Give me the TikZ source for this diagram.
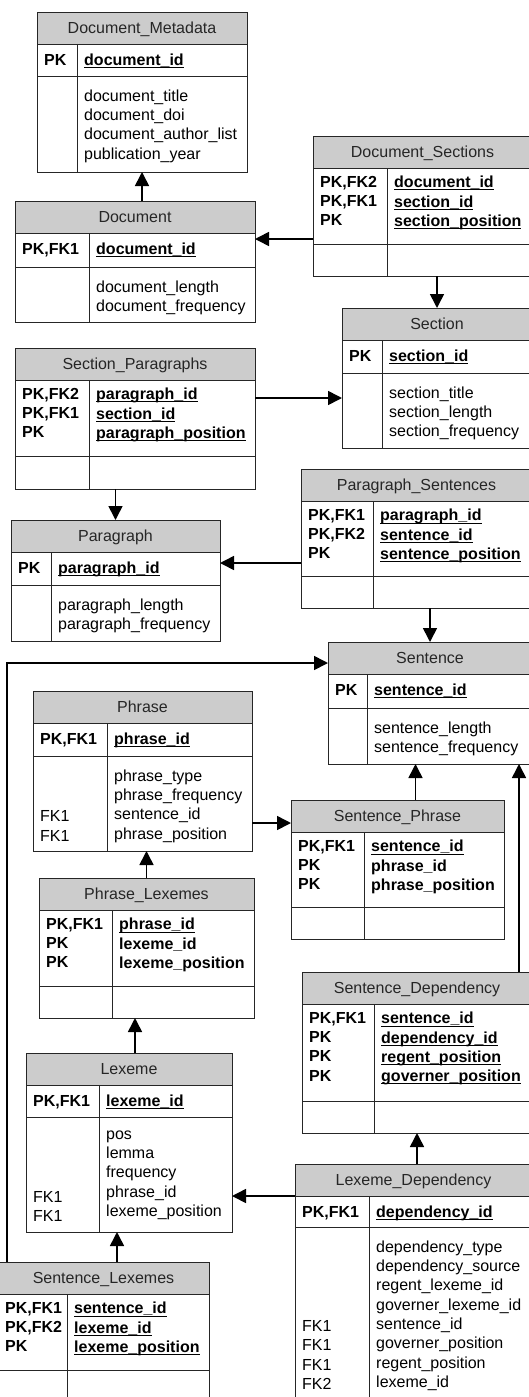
\documentclass[tikz,border=0pt]{standalone}
\usepackage{fontspec}
\setmainfont{Liberation Sans}
\usetikzlibrary{arrows.meta}

\newcommand{\entfont}{\fontsize{16}{19.3}\selectfont}
\newcommand{\pkul}[1]{\setbox0=\hbox{#1}\rlap{\rule[-2.6pt]{\wd0}{0.9pt}}\box0}

% table frame: id, left, top, right, divider, title, key height, body height
\newcommand{\enttable}[8]{%
  \node[enthead, minimum width={(#4-(#2))*1pt}, anchor=north west] (#1-h) at (#2,#3) {};
  \node[entrow, minimum width={(#4-(#2))*1pt}, minimum height=#7pt, anchor=north west] (#1-k) at (#1-h.south west) {};
  \node[entrow, minimum width={(#4-(#2))*1pt}, minimum height=#8pt, anchor=north west] (#1-b) at (#1-k.south west) {};
  \coordinate (#1-d) at (#5,{#3+32});
  \coordinate (#1-bd) at (#1-b.north -| #1-d);
  \draw[entline] (#1-d) -- (#1-d |- #1-b.south);
  \node[enttitle] at ([yshift=-21.5pt]#1-h.north) {#6};
}
\newcommand{\entkeys}[3]{%
  \node[keycol] at ([xshift=7pt,yshift=-8pt]#1-k.north west) {#2};
  \node[keycol] at ([xshift=7pt,yshift=-8pt]#1-d) {#3};
}
\newcommand{\entattrs}[3]{%
  \node[attrcol] at ([xshift=7pt,yshift=-13.5pt]#1-b.north west) {#2};
  \node[attrcol] at ([xshift=7pt,yshift=-13.5pt]#1-bd) {#3};
}

\begin{document}
\begin{tikzpicture}[x=1pt,y=-1pt,
    font=\entfont,
    entline/.style={draw=black!85,line width=0.9pt},
    enthead/.style={entline,fill=gray!40,minimum height=32pt,inner sep=0,outer sep=0},
    entrow/.style={entline,inner sep=0,outer sep=0},
    enttitle/.style={anchor=base,inner sep=0,text=black!85},
    keycol/.style={anchor=north west,inner sep=0,align=left,font=\entfont\bfseries,execute at begin node=\strut},
    attrcol/.style={anchor=north west,inner sep=0,align=left,execute at begin node=\strut},
    fk/.style={-{Triangle[length=14pt,width=14pt]},line width=1.6pt}
]
\useasboundingbox (0,0) rectangle (529,1397);

% document level
\enttable{meta}{37}{12}{247}{77}{Document\_Metadata}{32}{96}
\entkeys{meta}{PK}{\pkul{document\_id}}
\entattrs{meta}{}{document\_title\\document\_doi\\document\_author\_list\\publication\_year}

\enttable{doc}{15}{201}{255}{89}{Document}{34}{55}
\entkeys{doc}{PK,FK1}{\pkul{document\_id}}
\entattrs{doc}{}{document\_length\\document\_frequency}

\enttable{docsec}{313}{136}{532}{387}{Document\_Sections}{76}{32}
\entkeys{docsec}{PK,FK2\\PK,FK1\\PK}{\pkul{document\_id}\\\pkul{section\_id}\\\pkul{section\_position}}

\enttable{sec}{342}{308}{532}{382}{Section}{33}{75}
\entkeys{sec}{PK}{\pkul{section\_id}}
\entattrs{sec}{}{section\_title\\section\_length\\section\_frequency}

% paragraph level
\enttable{secpar}{15}{348}{255}{89}{Section\_Paragraphs}{76}{33}
\entkeys{secpar}{PK,FK2\\PK,FK1\\PK}{\pkul{paragraph\_id}\\\pkul{section\_id}\\\pkul{paragraph\_position}}

\enttable{par}{11}{520}{220}{51}{Paragraph}{33}{56}
\entkeys{par}{PK}{\pkul{paragraph\_id}}
\entattrs{par}{}{paragraph\_length\\paragraph\_frequency}

\enttable{parsen}{301}{469}{532}{373}{Paragraph\_Sentences}{75}{32}
\entkeys{parsen}{PK,FK1\\PK,FK2\\PK}{\pkul{paragraph\_id}\\\pkul{sentence\_id}\\\pkul{sentence\_position}}

\enttable{sen}{328}{642}{532}{367}{Sentence}{34}{56}
\entkeys{sen}{PK}{\pkul{sentence\_id}}
\entattrs{sen}{}{sentence\_length\\sentence\_frequency}

% phrase and lexeme level
\enttable{phr}{33}{691}{252}{107}{Phrase}{33}{95}
\entkeys{phr}{PK,FK1}{\pkul{phrase\_id}}
\entattrs{phr}{\strut\\\strut\\FK1\\FK1}{phrase\_type\\phrase\_frequency\\sentence\_id\\phrase\_position}

\enttable{senphr}{291}{800}{504}{364}{Sentence\_Phrase}{75}{32}
\entkeys{senphr}{PK,FK1\\PK\\PK}{\pkul{sentence\_id}\\phrase\_id\\phrase\_position}

\enttable{sendep}{302}{972}{532}{374}{Sentence\_Dependency}{97}{32}
\entkeys{sendep}{PK,FK1\\PK\\PK\\PK}{\pkul{sentence\_id}\\\pkul{dependency\_id}\\\pkul{regent\_position}\\\pkul{governer\_position}}

\enttable{phrlex}{39}{878}{254}{112}{Phrase\_Lexemes}{76}{32}
\entkeys{phrlex}{PK,FK1\\PK\\PK}{\pkul{phrase\_id}\\lexeme\_id\\lexeme\_position}

\enttable{lex}{26}{1053}{232}{99}{Lexeme}{32}{115}
\entkeys{lex}{PK,FK1}{\pkul{lexeme\_id}}
\entattrs{lex}{\strut\\\strut\\\strut\\FK1\\FK1}{pos\\lemma\\frequency\\phrase\_id\\lexeme\_position}

\enttable{senlex}{-2}{1262}{209}{67}{Sentence\_Lexemes}{76}{40}
\entkeys{senlex}{PK,FK1\\PK,FK2\\PK}{\pkul{sentence\_id}\\\pkul{lexeme\_id}\\\pkul{lexeme\_position}}

\enttable{lexdep}{295}{1164}{532}{369}{Lexeme\_Dependency}{31}{180}
\entkeys{lexdep}{PK,FK1}{\pkul{dependency\_id}}
\entattrs{lexdep}{\strut\\\strut\\\strut\\\strut\\FK1\\FK1\\FK1\\FK2}{dependency\_type\\dependency\_source\\regent\_lexeme\_id\\governer\_lexeme\_id\\sentence\_id\\governer\_position\\regent\_position\\lexeme\_id}

% references
\draw[fk] (doc-h.north -| meta-b.south) -- (meta-b.south);
\coordinate (p2) at ([yshift=5pt]docsec-k.south west);
\draw[fk] (p2) -- (p2 -| doc-k.east);
\draw[fk] (docsec-b.south -| sec-h.north) -- (sec-h.north);
\coordinate (p4) at ([yshift=-18pt]secpar-k.north east);
\draw[fk] (p4) -- (p4 -| sec-b.west);
\draw[fk] (secpar-b.south -| par-h.north) -- (par-h.north);
\coordinate (p6) at ([yshift=13pt]parsen-k.south west);
\draw[fk] (p6) -- (p6 -| par-k.east);
\draw[fk] (parsen-b.south -| sen-h.north) -- (sen-h.north);
\draw[fk] ([xshift=9pt]senlex-h.north west) |- ([yshift=-5pt]sen-h.west);
\coordinate (p9) at ([yshift=-7pt]senphr-h.west);
\draw[fk] (p9 -| phr-b.east) -- (p9);
\coordinate (p10) at ([xshift=18pt]senphr-h.north);
\draw[fk] (p10) -- (p10 |- sen-b.south);
\coordinate (p11) at ([xshift=-13pt]sendep-h.north east);
\draw[fk] (p11) -- (p11 |- sen-b.south);
\draw[fk] (phrlex-h.north) -- (phrlex-h.north |- phr-b.south);
\coordinate (p13) at ([xshift=6pt]lex-h.north);
\draw[fk] (p13) -- (p13 |- phrlex-b.south);
\coordinate (p14) at ([xshift=-12pt]lex-b.south);
\draw[fk] (p14 |- senlex-h.north) -- (p14);
\draw[fk] (lexdep-h.south west) -- (lexdep-h.south west -| lex-b.east);
\draw[fk] (lexdep-h.north -| sendep-b.south) -- (sendep-b.south);
\end{tikzpicture}
\end{document}
